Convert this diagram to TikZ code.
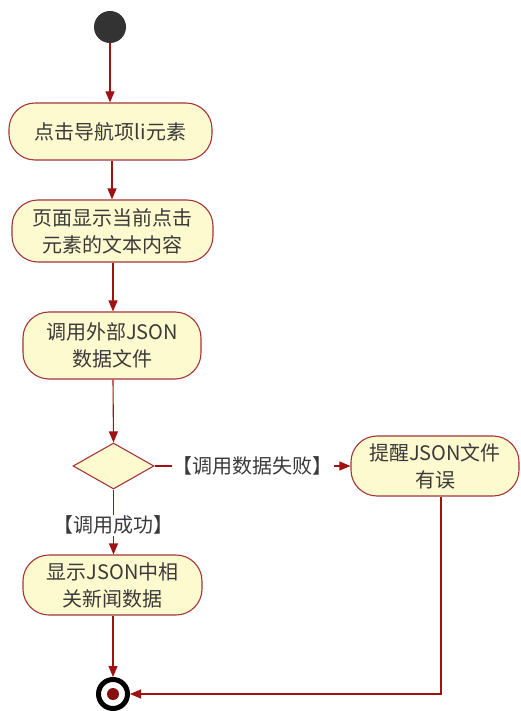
\documentclass[tikz,border=0pt]{standalone}
\usepackage{fontspec}
\setmainfont{Noto Sans CJK SC}
\usetikzlibrary{arrows.meta,shapes.geometric,calc}
\definecolor{boxfill}{HTML}{FEFACF}
\definecolor{boxline}{HTML}{A4343A}
\definecolor{arrowred}{HTML}{A01212}
\definecolor{txt}{HTML}{3A3A3A}
\tikzset{
  act/.style={draw=boxline, line width=1.1pt, fill=boxfill, rounded corners=26pt,
    align=center, text=txt, font=\fontsize{20}{27}\selectfont, inner sep=0pt},
  dec/.style={draw=boxline, line width=1.1pt, fill=boxfill, diamond, aspect=1.76,
    inner sep=0pt},
  flow/.style={draw=arrowred, line width=1.1pt, -{Triangle[length=11pt,width=9pt]}},
  guard/.style={fill=white, text=txt, font=\fontsize{20}{24}\selectfont, inner sep=1pt}
}
\begin{document}
\begin{tikzpicture}[x=1pt,y=1pt]
\useasboundingbox (0,0) rectangle (520,-711);
\node[circle, fill=black!80, minimum size=32pt, inner sep=0pt] (start) at (110,-27) {};
\node[act, minimum width=203pt, minimum height=57pt] (a1) at (110.5,-131.5) {点击导航项li元素};
\node[act, minimum width=201pt, minimum height=62pt] (a2) at (112.5,-231) {页面显示当前点击\\元素的文本内容};
\node[act, minimum width=178pt, minimum height=67pt] (a3) at (112,-345.5) {调用外部JSON\\数据文件};
\node[dec, minimum width=81pt, minimum height=46pt] (d) at (113.5,-466) {};
\node[act, minimum width=168pt, minimum height=60pt] (a4) at (435,-466) {提醒JSON文件\\有误};
\node[act, minimum width=179pt, minimum height=60pt] (a5) at (112.5,-585) {显示JSON中相\\关新闻数据};
\node[circle, draw=black, line width=5pt, fill=white, minimum size=29pt, inner sep=0pt] (end) at (113,-694) {};
\node[circle, fill=arrowred!85!black, minimum size=12pt, inner sep=0pt] (enddot) at (end.center) {};
\coordinate (c4) at ([xshift=6pt]a4.south);

\draw[flow] (start) -- (start |- a1.north);
\draw[flow] (a1.south -| 112,0) -- (a2.north -| 112,0);
\draw[flow] (a2.south -| 113,0) -- (a3.north -| 113,0);
\draw[flow] (a3.south -| 113,0) -- (d.north);
\draw[flow] (d.east) -- node[guard, pos=0.5] (fl) {【调用数据失败】} (a4.west);
\draw[flow] (d.south) -- node[guard, pos=0.55] (sl) {【调用成功】} (a5.north -| d.south);
\draw[flow] (a5.south -| 113,0) -- (end.north);
\draw[flow] (c4) |- (end.east);
\end{tikzpicture}
\end{document}
